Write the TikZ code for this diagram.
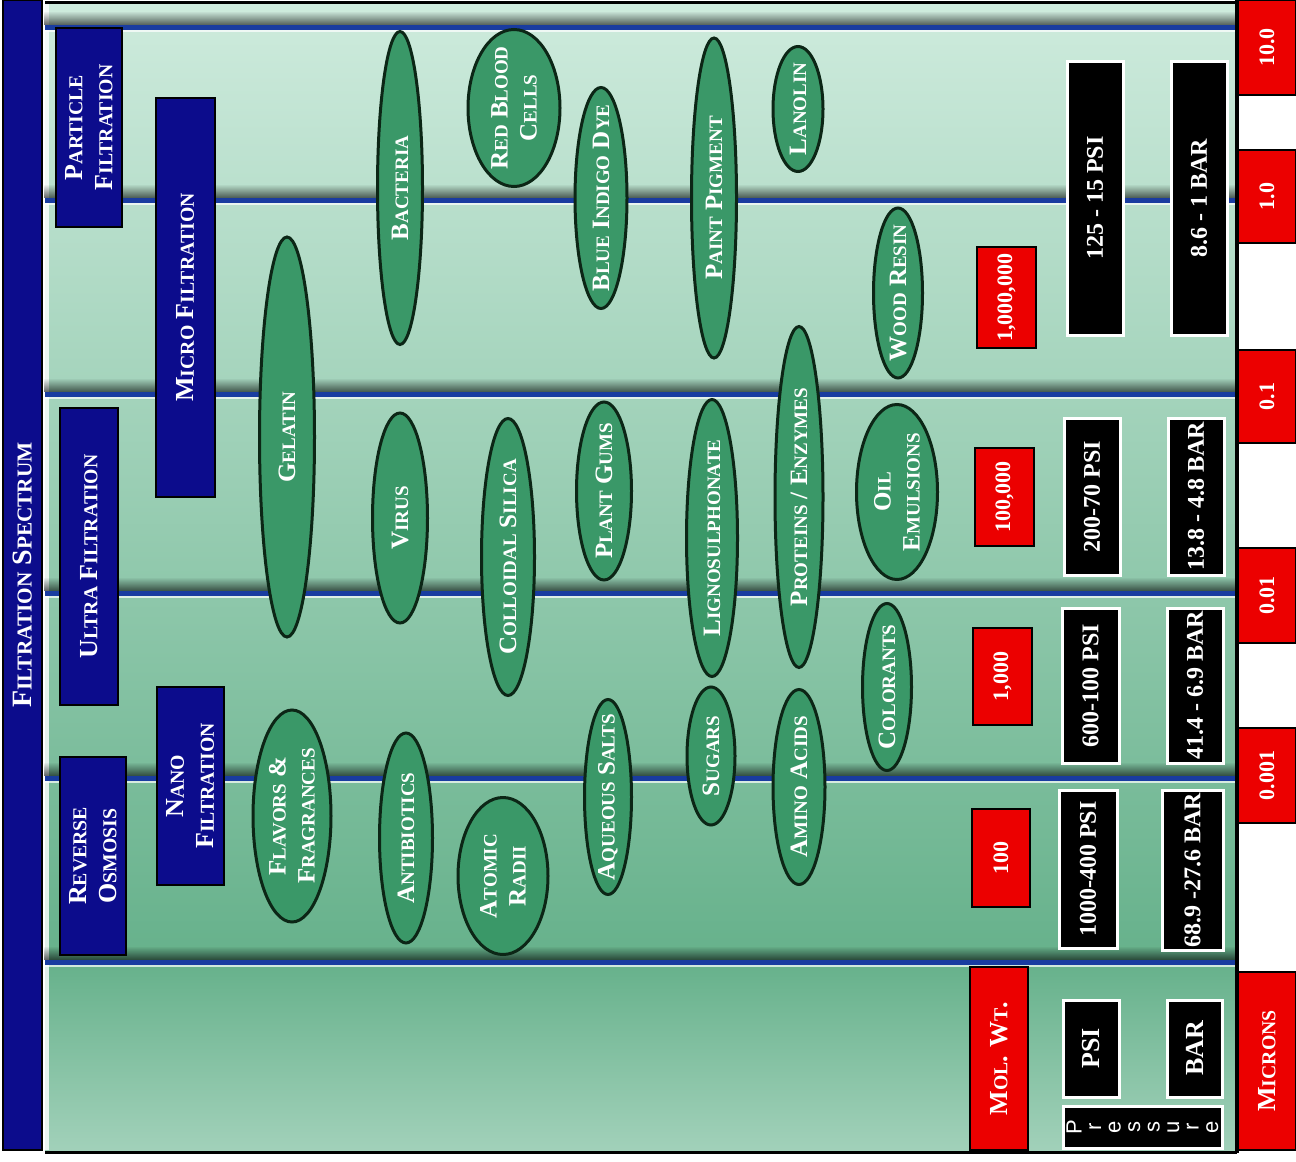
\documentclass[tikz,border=0pt]{standalone}
\usepackage{fontspec}
\setmainfont{Liberation Serif}
\newfontfamily\presfont{Liberation Sans}
\usepackage{graphicx}
\usetikzlibrary{fadings}

\definecolor{navy}{RGB}{12,12,140}
\definecolor{specred}{RGB}{236,0,0}
\definecolor{blobgreen}{RGB}{58,152,104}
\definecolor{blobedge}{RGB}{12,38,22}
\definecolor{bandblue}{RGB}{25,60,160}
\definecolor{mintlight}{RGB}{206,235,221}
\definecolor{mintmid}{RGB}{142,203,172}
\definecolor{mintdark}{RGB}{102,177,139}
\definecolor{mintlow}{RGB}{162,209,186}

% fake small caps
\newcommand\smc[1]{\scalebox{0.76}{#1}}

\begin{document}
\begin{tikzpicture}[
  x=1pt, y=-1pt,
  vlabel/.style={
    rectangle,
    rotate=90,
    inner sep=0pt,
    align=center,
    text=white
  },
  bluebox/.style={vlabel, fill=navy, draw=black, line width=2pt,
    font=\bfseries\fontsize{26}{30}\selectfont},
  redbox/.style={vlabel, fill=specred, draw=black, line width=2.5pt,
    font=\bfseries\fontsize{22}{26}\selectfont},
  psibox/.style={vlabel, fill=black, draw=white, line width=3pt,
    font=\bfseries\fontsize{24}{28}\selectfont},
  blob/.style={fill=blobgreen, draw=blobedge, line width=3pt},
  blobtext/.style={rotate=90, inner sep=0pt, align=center, text=white,
    font=\bfseries\fontsize{25}{29}\selectfont},
  band/.style={draw=bandblue, line width=5pt}
]
\useasboundingbox (0,0) rectangle (1296,1162);

% background panel
\shade[top color=mintlight, middle color=mintmid, bottom color=mintdark] (45,3) rectangle (1237,962);
\shade[top color=mintdark, bottom color=mintlow] (45,962) rectangle (1237,1152);
\fill[white, opacity=0.8] (43,4) rectangle (49,1150);
\foreach \ly in {27,200,394,593,778,962} {
  \fill[black, fill opacity=0.6, path fading=north] (45,\ly-16) rectangle (1237,\ly-2);
  \draw[white, line width=2pt, opacity=0.7] (45,\ly+4) -- (1237,\ly+4);
  \draw[band] (45,\ly) -- (1237,\ly);
}
\draw[black, line width=3pt] (45,2) -- (1237,2);
\draw[black, line width=3pt] (45,1152) -- (1237,1152);
\fill[white] (1237,0) rectangle (1296,1162);
\draw[black, line width=4pt] (1237,0) -- (1237,1153);

% filtration ranges
\node[bluebox, minimum width=1150pt, minimum height=39pt, font=\bfseries\fontsize{28}{30}\selectfont] (title) at (22.5,575) {F\smc{ILTRATION} S\smc{PECTRUM}};
\node[bluebox, minimum width=199pt, minimum height=66pt] (particle) at (89,127.5) {P\smc{ARTICLE}\\F\smc{ILTRATION}};
\node[bluebox, minimum width=399pt, minimum height=59pt] (micro) at (185.5,297.5) {M\smc{ICRO} F\smc{ILTRATION}};
\node[bluebox, minimum width=297pt, minimum height=58pt] (ultra) at (89,556.5) {U\smc{LTRA} F\smc{ILTRATION}};
\node[bluebox, minimum width=198pt, minimum height=67pt] (nano) at (190.5,786) {N\smc{ANO}\\F\smc{ILTRATION}};
\node[bluebox, minimum width=198pt, minimum height=66pt] (reverse) at (93,856) {R\smc{EVERSE}\\O\smc{SMOSIS}};

% particles
\draw[blob] (287,437) ellipse [x radius=27.5, y radius=200];
\node[blobtext] (gelatin) at (287,437) {G\smc{ELATIN}};
\draw[blob] (292,816) ellipse [x radius=39, y radius=106];
\node[blobtext] (flavors) at (292,816) {F\smc{LAVORS} \&\\F\smc{RAGRANCES}};
\draw[blob] (400,188) ellipse [x radius=22.5, y radius=156.5];
\node[blobtext] (bacteria) at (400,188) {B\smc{ACTERIA}};
\draw[blob] (514,108) ellipse [x radius=46, y radius=78.5];
\node[blobtext] (redblood) at (514,108) {R\smc{ED} B\smc{LOOD}\\C\smc{ELLS}};
\draw[blob] (601,198) ellipse [x radius=26, y radius=110.5];
\node[blobtext] (indigo) at (601,198) {B\smc{LUE} I\smc{NDIGO} D\smc{YE}};
\draw[blob] (400,518) ellipse [x radius=27.5, y radius=105];
\node[blobtext] (virus) at (400,518) {V\smc{IRUS}};
\draw[blob] (508,557) ellipse [x radius=26.5, y radius=138.5];
\node[blobtext] (silica) at (508,557) {C\smc{OLLOIDAL} S\smc{ILICA}};
\draw[blob] (604,491) ellipse [x radius=27.5, y radius=89];
\node[blobtext] (gums) at (604,491) {P\smc{LANT} G\smc{UMS}};
\draw[blob] (608,797) ellipse [x radius=23.5, y radius=97.5];
\node[blobtext] (salts) at (608,797) {A\smc{QUEOUS} S\smc{ALTS}};
\draw[blob] (406,838) ellipse [x radius=26.5, y radius=105];
\node[blobtext] (antibiotics) at (406,838) {A\smc{NTIBIOTICS}};
\draw[blob] (503,876) ellipse [x radius=45, y radius=78.5];
\node[blobtext] (atomic) at (503,876) {A\smc{TOMIC}\\R\smc{ADII}};
\draw[blob] (714,198) ellipse [x radius=22.5, y radius=160];
\node[blobtext] (paint) at (714,198) {P\smc{AINT} P\smc{IGMENT}};
\draw[blob] (798,109) ellipse [x radius=25, y radius=62.5];
\node[blobtext] (lanolin) at (798,109) {L\smc{ANOLIN}};
\draw[blob] (898,293) ellipse [x radius=24.5, y radius=85];
\node[blobtext] (resin) at (898,293) {W\smc{OOD} R\smc{ESIN}};
\draw[blob] (799,497) ellipse [x radius=24, y radius=170.5];
\node[blobtext] (proteins) at (799,497) {P\smc{ROTEINS} / E\smc{NZYMES}};
\draw[blob] (712,538) ellipse [x radius=25.5, y radius=138.5];
\node[blobtext] (ligno) at (712,538) {L\smc{IGNOSULPHONATE}};
\draw[blob] (897,492) ellipse [x radius=40.5, y radius=87.5];
\node[blobtext] (oil) at (897,492) {O\smc{IL}\\E\smc{MULSIONS}};
\draw[blob] (887,687) ellipse [x radius=24.5, y radius=83.5];
\node[blobtext] (colorants) at (887,687) {C\smc{OLORANTS}};
\draw[blob] (711,756) ellipse [x radius=24, y radius=69];
\node[blobtext] (sugars) at (711,756) {S\smc{UGARS}};
\draw[blob] (799,787) ellipse [x radius=26, y radius=97.5];
\node[blobtext] (amino) at (799,787) {A\smc{MINO} A\smc{CIDS}};

% molecular weight
\node[redbox, minimum width=101pt, minimum height=59pt] (mw1) at (1006.5,297.5) {1,000,000};
\node[redbox, minimum width=98pt, minimum height=59pt] (mw2) at (1004.5,497) {100,000};
\node[redbox, minimum width=97pt, minimum height=59pt] (mw3) at (1002.5,676.5) {1,000};
\node[redbox, minimum width=98pt, minimum height=58pt] (mw4) at (1001,858) {100};
\node[redbox, minimum width=183pt, minimum height=58pt, font=\bfseries\fontsize{26}{30}\selectfont] (molwt) at (999,1058.5) {M\smc{OL}. W\smc{T}.};

% pressure
\node[psibox, minimum width=274pt, minimum height=56pt] (psi1) at (1095,198) {125 - 15 PSI};
\node[psibox, minimum width=274pt, minimum height=56pt] (bar1) at (1199,198) {8.6 - 1 BAR};
\node[psibox, minimum width=157pt, minimum height=56pt] (psi2) at (1092,496.5) {200-70 PSI};
\node[psibox, minimum width=157pt, minimum height=56pt] (bar2) at (1196,496.5) {13.8 - 4.8 BAR};
\node[psibox, minimum width=155pt, minimum height=57pt] (psi3) at (1090.5,685.5) {600-100 PSI};
\node[psibox, minimum width=155pt, minimum height=56pt] (bar3) at (1195,685.5) {41.4 - 6.9 BAR};
\node[psibox, minimum width=158pt, minimum height=58pt] (psi4) at (1088,869) {1000-400 PSI};
\node[psibox, minimum width=160pt, minimum height=61pt] (bar4) at (1192.5,870) {68.9 -27.6 BAR};
\node[psibox, minimum width=97pt, minimum height=56pt, font=\bfseries\fontsize{26}{30}\selectfont] (psihead) at (1091,1048.5) {PSI};
\node[psibox, minimum width=97pt, minimum height=55pt, font=\bfseries\fontsize{26}{30}\selectfont] (barhead) at (1194.5,1048.5) {BAR};
\node[psibox, minimum width=42pt, minimum height=159pt, font=\presfont\fontsize{22}{19.5}\selectfont] (pressure) at (1142.5,1127) {P\\r\\e\\s\\s\\u\\r\\e};

% microns
\node[redbox, minimum width=95pt, minimum height=58pt] (mic1) at (1267,47.5) {10.0};
\node[redbox, minimum width=93pt, minimum height=58pt] (mic2) at (1267,196.5) {1.0};
\node[redbox, minimum width=93pt, minimum height=58pt] (mic3) at (1267,396.5) {0.1};
\node[redbox, minimum width=95pt, minimum height=58pt] (mic4) at (1267,595.5) {0.01};
\node[redbox, minimum width=95pt, minimum height=58pt] (mic5) at (1267,775.5) {0.001};
\node[redbox, minimum width=178pt, minimum height=58pt, font=\bfseries\fontsize{26}{30}\selectfont] (microns) at (1267,1061) {M\smc{ICRONS}};

\end{tikzpicture}
\end{document}
